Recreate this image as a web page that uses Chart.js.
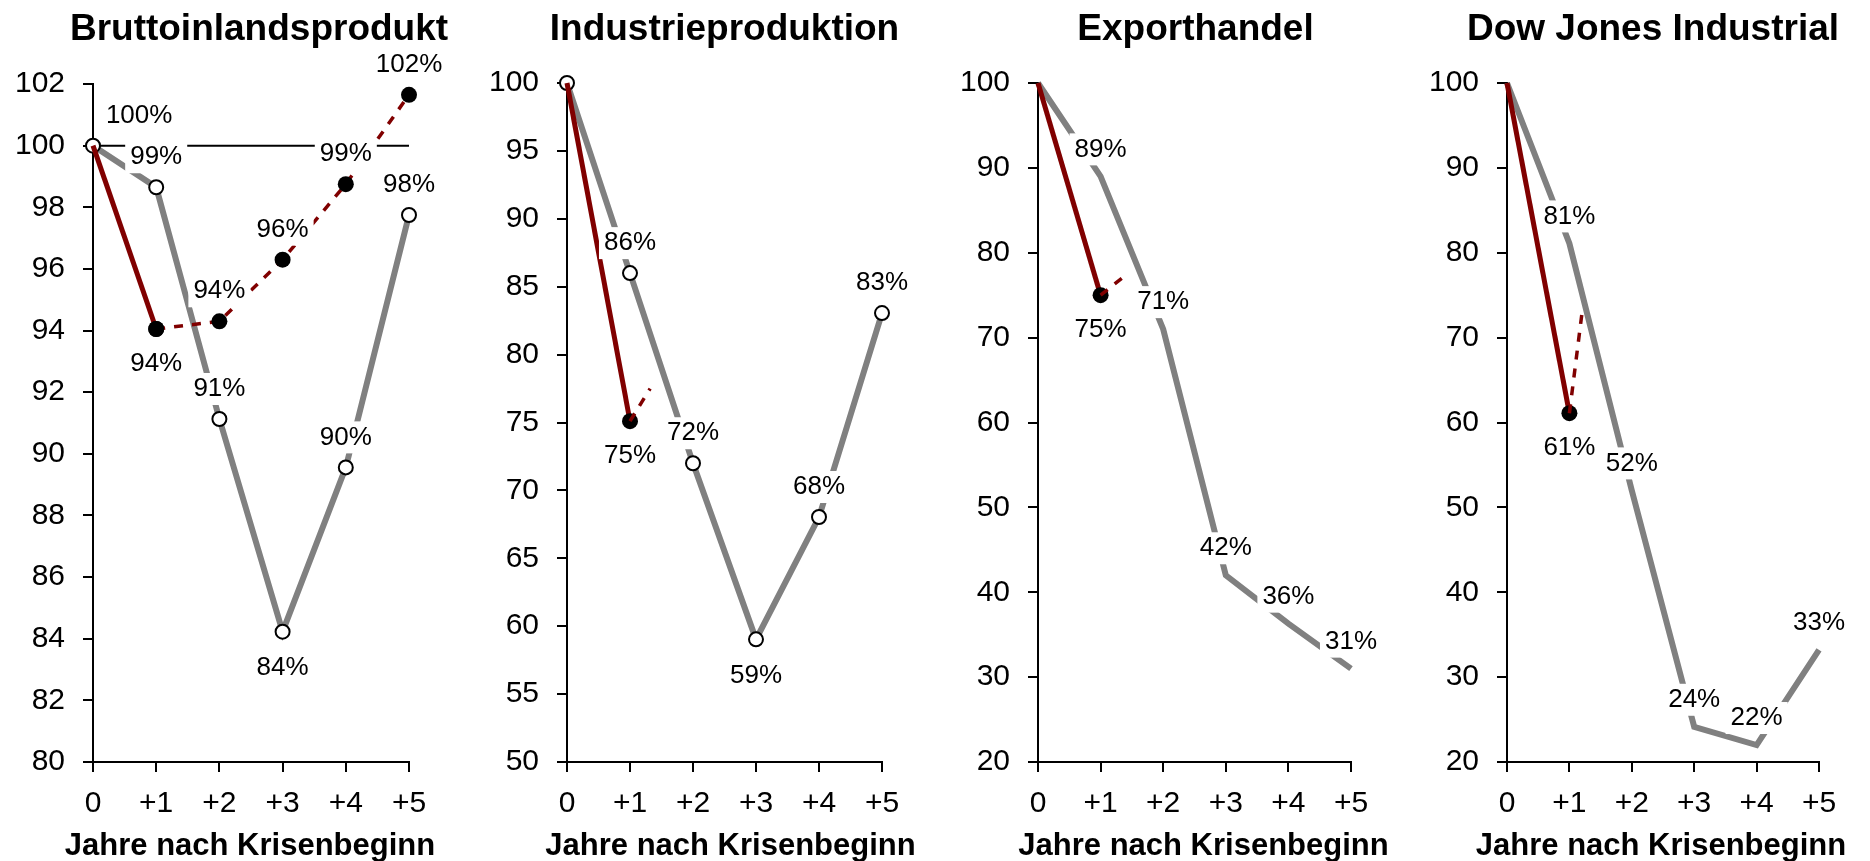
<!DOCTYPE html>
<html lang="de">
<head>
<meta charset="utf-8">
<title>Krisenverlauf</title>
<script src="https://cdn.jsdelivr.net/npm/chart.js@4.4.1/dist/chart.umd.min.js"></script>
<style>
  html, body { margin: 0; padding: 0; background: #fff; }
  body { width: 1870px; height: 861px; position: relative; overflow: hidden; }
  canvas { position: absolute; top: 0; }
</style>
</head>
<body>
<canvas id="gdp" width="456" height="861" style="left:3px"></canvas>
<canvas id="ip" width="455" height="861" style="left:477px"></canvas>
<canvas id="ex" width="453" height="861" style="left:948px"></canvas>
<canvas id="dj" width="452" height="861" style="left:1417px"></canvas>
<script>
// Years after the start of the crisis and their axis labels
const years = [0, 1, 2, 3, 4, 5];
const xTickLabels = ['0', '+1', '+2', '+3', '+4', '+5'];
const nowYears = [0, 1];
const axisTitle = 'Jahre nach Krisenbeginn';

// Bruttoinlandsprodukt (Index, Krisenbeginn = 100)
const gdpPast = [100, 98.65, 91.13, 84.23, 89.56, 97.75];
const gdpNow = [100, 94.05];
const gdpOutlookYears = [1, 2, 3, 4, 5];
const gdpOutlook = [94.05, 94.3, 96.3, 98.75, 101.65];
const gdpBaselineYears = [0, 5];
const gdpBaseline = [100, 100];
const gdpYAxis = [80, 102, 2];

// Industrieproduktion
const ipPast = [100, 86.0, 72.0, 59.03, 68.04, 83.06];
const ipNow = [100, 75.1];
const ipOutlookYears = [1, 1.32];
const ipOutlook = [75.1, 77.5];
const ipYAxis = [50, 100, 5];

// Exporthandel
const exPast = [100, 89, 71, 42, 36.3, 31];
const exNow = [100, 75];
const exOutlookYears = [1, 1.34];
const exOutlook = [75, 77];
const exYAxis = [20, 100, 10];

// Dow Jones Industrial
const djPast = [100, 81.1, 52, 24.15, 22, 33.2];
const djNow = [100, 61.1];
const djOutlookYears = [1, 1.2];
const djOutlook = [61.1, 72.8];
const djYAxis = [20, 100, 10];

const GRAY = '#808080';
const RED = '#800000';
const FONT = '"Liberation Sans", Arial, Helvetica, sans-serif';

const pts = (xs, ys) => xs.map((x, i) => ({ x: x, y: ys[i] }));

// Percentage labels on white boxes, drawn above or below the points
const valueLabels = {
  id: 'valueLabels',
  afterDatasetsDraw(chart) {
    const ctx = chart.ctx;
    const xs = chart.scales.x, ys = chart.scales.y;
    ctx.save();
    ctx.font = '26px ' + FONT;
    ctx.textAlign = 'center';
    ctx.textBaseline = 'middle';
    const put = (text, px, py) => {
      const w = ctx.measureText(text).width;
      ctx.fillStyle = '#fff';
      ctx.fillRect(px - w / 2 - 5, py - 16, w + 10, 32);
      ctx.fillStyle = '#000';
      ctx.fillText(text, px, py);
    };
    chart.data.datasets.forEach((ds, di) => {
      const cfg = ds.valueLabels;
      if (!cfg) return;
      if (cfg.at !== undefined) {
        const v = ds.data[0].y;
        put(Math.round(v) + '%', xs.getPixelForValue(cfg.at), ys.getPixelForValue(v) - cfg.up);
        return;
      }
      const meta = chart.getDatasetMeta(di);
      ds.data.forEach((p, i) => {
        if (cfg.skip && cfg.skip.includes(i)) return;
        const el = meta.data[i];
        const below = cfg.below && cfg.below.includes(i);
        put(Math.round(p.y) + '%', el.x, el.y + (below ? cfg.down : -cfg.up));
      });
    });
    ctx.restore();
  }
};

// Panel heading and x axis caption, centred on the plot area
const panelHeadings = {
  id: 'panelHeadings',
  afterDraw(chart, args, opts) {
    const { ctx, chartArea } = chart;
    const cx = (chartArea.left + chartArea.right) / 2;
    ctx.save();
    ctx.fillStyle = '#000';
    ctx.textAlign = 'center';
    ctx.textBaseline = 'alphabetic';
    ctx.font = 'bold 37px ' + FONT;
    ctx.fillText(opts.title, cx + opts.titleShift, 40);
    ctx.font = 'bold 31px ' + FONT;
    ctx.fillText(opts.caption, cx + opts.captionShift, 855);
    ctx.restore();
  }
};

Chart.register(valueLabels, panelHeadings);

function panelChart(id, p) {
  const datasets = [
    {
      label: 'Früherer Krisenverlauf',
      data: pts(years, p.past),
      borderColor: GRAY,
      borderWidth: 6,
      pointRadius: p.pastMarkers ? 7 : 0,
      pointBackgroundColor: '#fff',
      pointBorderColor: '#000',
      pointBorderWidth: 2,
      order: 4,
      valueLabels: { skip: [0], below: p.pastBelow, up: p.pastMarkers ? 30 : 27, down: 36 }
    },
    {
      label: 'Aktueller Verlauf',
      data: pts(nowYears, p.now),
      borderColor: RED,
      borderWidth: 5,
      pointRadius: [0, 8],
      pointBackgroundColor: '#000',
      pointBorderWidth: 0,
      order: 3,
      valueLabels: { skip: [0], below: [1], up: 30, down: 35 }
    },
    {
      label: 'Aktuelle Tendenz',
      data: pts(p.outlookYears, p.outlook),
      borderColor: RED,
      borderWidth: 3.5,
      borderDash: [9, 9],
      pointRadius: p.outlookMarkers ? 8 : 0,
      pointBackgroundColor: '#000',
      pointBorderWidth: 0,
      order: 2,
      valueLabels: p.outlookMarkers ? { skip: [0], below: [], up: 30, down: 36 } : null
    }
  ];
  if (p.baseline) {
    datasets.push({
      label: 'Ausgangsniveau',
      data: pts(gdpBaselineYears, p.baseline),
      borderColor: '#000',
      borderWidth: 2,
      pointRadius: 0,
      order: 5,
      valueLabels: { at: 0.73, up: 30 }
    });
  }
  datasets.forEach(d => { d.clip = false; d.tension = 0; d.fill = false; });

  return new Chart(document.getElementById(id), {
    type: 'line',
    data: { datasets: datasets },
    options: {
      responsive: false,
      animation: false,
      devicePixelRatio: 1,
      layout: { padding: { top: p.top, right: 50, bottom: 0, left: 0 } },
      plugins: {
        legend: { display: false },
        tooltip: { enabled: false },
        panelHeadings: { title: p.title, caption: axisTitle, titleShift: p.titleShift, captionShift: p.captionShift }
      },
      scales: {
        x: {
          type: 'linear',
          min: 0,
          max: 5,
          afterFit: s => { s.height = 99; },
          border: { color: '#000', width: 2 },
          grid: { drawOnChartArea: false, drawTicks: true, tickLength: 10, color: '#000', lineWidth: 2 },
          ticks: {
            stepSize: 1,
            maxRotation: 0,
            autoSkip: false,
            padding: 14,
            color: '#000',
            font: { family: FONT, size: 30 },
            callback: v => xTickLabels[years.indexOf(v)]
          }
        },
        y: {
          min: p.yAxis[0],
          max: p.yAxis[1],
          afterFit: s => { s.width = 90; },
          border: { color: '#000', width: 2 },
          grid: { drawOnChartArea: false, drawTicks: true, tickLength: 10, color: '#000', lineWidth: 2 },
          ticks: {
            stepSize: p.yAxis[2],
            autoSkip: false,
            padding: 18,
            color: '#000',
            font: { family: FONT, size: 30 },
            callback: v => String(v)
          }
        }
      }
    }
  });
}

panelChart('gdp', {
  title: 'Bruttoinlandsprodukt', titleShift: 8, captionShift: -1, top: 84,
  past: gdpPast, pastMarkers: true, pastBelow: [3],
  now: gdpNow, outlookYears: gdpOutlookYears, outlook: gdpOutlook, outlookMarkers: true,
  baseline: gdpBaseline, yAxis: gdpYAxis
});
panelChart('ip', {
  title: 'Industrieproduktion', titleShift: 0, captionShift: 6, top: 83,
  past: ipPast, pastMarkers: true, pastBelow: [3],
  now: ipNow, outlookYears: ipOutlookYears, outlook: ipOutlook, outlookMarkers: false,
  yAxis: ipYAxis
});
panelChart('ex', {
  title: 'Exporthandel', titleShift: 1, captionShift: 9, top: 83,
  past: exPast, pastMarkers: false, pastBelow: [],
  now: exNow, outlookYears: exOutlookYears, outlook: exOutlook, outlookMarkers: false,
  yAxis: exYAxis
});
panelChart('dj', {
  title: 'Dow Jones Industrial', titleShift: -10, captionShift: -2, top: 83,
  past: djPast, pastMarkers: false, pastBelow: [],
  now: djNow, outlookYears: djOutlookYears, outlook: djOutlook, outlookMarkers: false,
  yAxis: djYAxis
});
</script>
</body>
</html>
